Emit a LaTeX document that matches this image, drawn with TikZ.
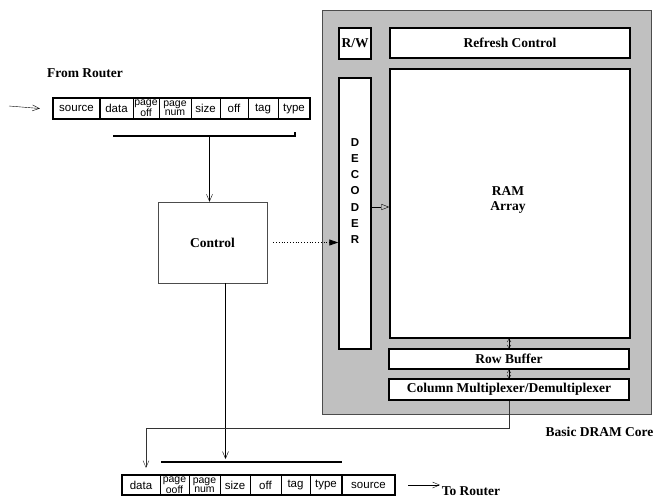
\documentclass[tikz,border=0pt]{standalone}
\usepackage{fontspec}
\setmainfont{Liberation Serif}
\setsansfont{Liberation Sans}
\usepackage{xcolor}
\usetikzlibrary{arrows.meta, positioning, calc}

\definecolor{coregray}{RGB}{192,192,192}

\tikzset{
  unit/.style={draw, line width=1.5pt, fill=white, inner sep=0pt},
  field/.style={draw, thin, inner sep=0pt, align=center,
    font=\sffamily\mdseries\fontsize{11.5}{9.5}\selectfont},
  twoline/.style={font=\sffamily\mdseries\fontsize{10.5}{9}\selectfont},
  barb/.style={-{Straight Barb[length=7pt,width=6pt]}},
  tinybarb/.style={{Straight Barb[length=3pt,width=4pt]}-{Straight Barb[length=3pt,width=4pt]}},
}

\begin{document}
\begin{tikzpicture}[x=1pt, y=-1pt, font=\bfseries\fontsize{13.5}{15}\selectfont]
  \useasboundingbox (0,0) rectangle (659,499);
  % ---------- incoming packet ----------
  \node at (85,73) (fromlab) {From Router};
  \foreach \n/\xa/\xb/\lab/\sty in {1/53/100/{source}/field, 2/100/133/{data}/field,
    3/133/159/{page\\off}/twoline, 4/159/191/{page\\num}/twoline, 5/191/220/{size}/field,
    6/220/248/{off}/field, 7/248/278/{tag}/field, 8/278/310/{type}/field}
  {
    \node[field, \sty, minimum width=(\xb-\xa)*1pt, minimum height=21pt]
      at ({(\xa+\xb)/2},108.5) (top\n) {\lab};
  }
  \draw[line width=1.5pt] (top1.north west) rectangle (top8.south east);
  \draw[line width=1.5pt] (top1.north east) -- (top1.south east);
  \coordinate (inL) at (9,106);
  \draw[barb] (inL) -- ($(top1.west)+(-13,0)$);
  % bar under the header fields
  \coordinate (tbarL) at (113,136);
  \coordinate (tbarR) at (295,136);
  \draw[line width=1.5pt] (tbarL) -- (tbarR) -- ++(0,-4);
  % ---------- control ----------
  \node[draw=black!70, thin, minimum width=109pt, minimum height=81pt]
    at (212.5,242.5) (ctrl) {Control};
  \draw[barb] ([xshift=-3pt]ctrl.north |- tbarL) -- ([xshift=-3pt]ctrl.north);
  % ---------- DRAM core ----------
  \node[draw=black!70, thin, fill=coregray, minimum width=329pt, minimum height=404pt]
    at (486.5,212) (core) {};
  \node[anchor=north east] at (657,424) (corelab) {Basic DRAM Core};
  \node[unit, minimum width=32pt, minimum height=31pt] at (355,43.5) (rw) {R/W};
  \node[unit, minimum width=240pt, minimum height=30pt] at (510,43) (refresh) {Refresh Control};
  \node[unit, minimum width=32pt, minimum height=271pt] at (355,213.5) (dec) {};
  \node[font=\sffamily\bfseries\fontsize{11.5}{16.3}\selectfont, align=center]
    at (355,191) (dectxt) {D\\E\\C\\O\\D\\E\\R};
  \node[unit, minimum width=240pt, minimum height=269pt] at (510,203.5) (ram) {};
  \node[align=center] at (508,200) (ramtxt) {RAM\\Array};
  \node[unit, minimum width=240pt, minimum height=20pt] at (509,359) (rowbuf) {Row Buffer};
  \node[unit, minimum width=240pt, minimum height=21pt] at (509,389.5) (colmux)
    {Column Multiplexer/Demultiplexer};
  \draw[tinybarb] (ram.south -| rowbuf.north) -- (rowbuf.north);
  \draw[tinybarb] (rowbuf.south) -- (colmux.north);
  \draw[-{Triangle[open,length=8pt,width=6pt]}] (dec.east |- 0,207) -- (ram.west |- 0,207);
  \draw[dotted, thick, -{Triangle[length=9pt,width=6pt]}, shorten <=6pt]
    (ctrl.east) -- (ctrl.east -| dec.west);
  % ---------- outgoing packet ----------
  \foreach \n/\xa/\xb/\lab/\sty in {1/122/160/{data}/field, 2/160/189/{page\\ooff}/twoline,
    3/189/220/{page\\num}/twoline, 4/220/250/{size}/field, 5/250/281/{off}/field,
    6/281/310/{tag}/field, 7/310/342/{type}/field, 8/342/395/{source}/field}
  {
    \node[field, \sty, minimum width=(\xb-\xa)*1pt, minimum height=20pt]
      at ({(\xa+\xb)/2},485) (bot\n) {\lab};
  }
  \draw[line width=1.5pt] (bot1.north west) rectangle (bot8.south east);
  \draw[line width=1.5pt] (bot8.north west) -- (bot8.south west);
  \coordinate (bbarL) at (161,462);
  \coordinate (bbarR) at (342,462);
  \draw[line width=1.5pt] (bbarL) -- (bbarR);
  \draw[barb] ([xshift=13pt]ctrl.south) -- ([xshift=13pt]ctrl.south |- 0,459);
  % return path from the column multiplexer
  \coordinate (bend) at (146,428);
  \coordinate (outL) at (146,468);
  \draw[black!80, barb] (colmux.south) |- (bend) -- (outL);
  \coordinate (outR) at (408,485);
  \draw[barb] (outR) -- ++(32,0);
  \node at (471,491) (tolab) {To Router};
\end{tikzpicture}
\end{document}
